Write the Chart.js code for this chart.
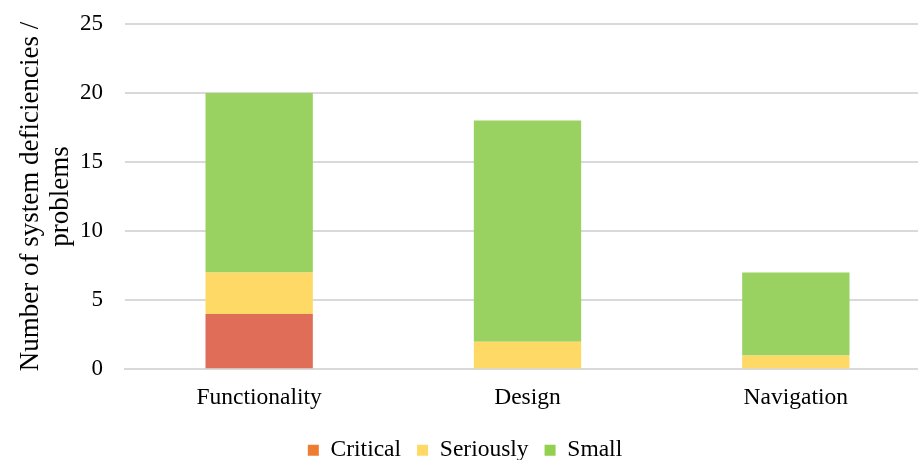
<!DOCTYPE html>
<html>
<head>
<meta charset="utf-8">
<script src="https://cdn.jsdelivr.net/npm/chart.js@4.4.1/dist/chart.umd.min.js"></script>
<style>
  html, body { margin: 0; padding: 0; background: #fff; }
  #wrap { width: 918px; height: 460px; overflow: hidden; }
  /* canvas is a bit bigger than the window; top tick label sits at the edge like the original */
  #chart { display: block; margin-top: -12px; }
</style>
</head>
<body>
<div id="wrap"><canvas id="chart" width="930" height="484"></canvas></div>
<script>
const categories = ["Functionality", "Design", "Navigation"];
const critical = [4, 0, 0];
const seriously = [3, 2, 1];
const small = [13, 16, 6];
const yTicks = [0, 5, 10, 15, 20, 25];

const serif = "'Liberation Serif', 'Times New Roman', serif";
const legendColors = ["#ED7D31", "#FFD966", "#92D050"];

new Chart(document.getElementById("chart").getContext("2d"), {
  type: "bar",
  data: {
    labels: categories,
    datasets: [
      { label: "Critical", data: critical, backgroundColor: "#E06D58" },
      { label: "Seriously", data: seriously, backgroundColor: "#FED966" },
      { label: "Small", data: small, backgroundColor: "#9AD262" }
    ]
  },
  options: {
    responsive: false,
    animation: false,
    layout: { padding: 0 },
    datasets: { bar: { barPercentage: 0.4, categoryPercentage: 1.0 } },
    plugins: {
      tooltip: { enabled: false },
      legend: {
        position: "bottom",
        // empty title only used as a spacer above the items
        title: { display: true, text: "", font: { size: 5, lineHeight: 1 }, padding: 0 },
        labels: {
          color: "#000",
          font: { family: serif, size: 23.5 },
          boxWidth: 11,
          boxHeight: 11,
          padding: 16,
          generateLabels(chart) {
            return chart.data.datasets.map((ds, i) => ({
              text: ds.label,
              fillStyle: legendColors[i],
              strokeStyle: legendColors[i],
              lineWidth: 0,
              datasetIndex: i,
              fontColor: "#000"
            }));
          }
        }
      }
    },
    scales: {
      x: {
        stacked: true,
        grid: { display: false },
        border: { color: "#d9d9d9", width: 2 },
        ticks: { color: "#000", font: { family: serif, size: 23.5 }, padding: 6 }
      },
      y: {
        stacked: true,
        min: 0,
        max: 25,
        afterBuildTicks(axis) { axis.ticks = yTicks.map(v => ({ value: v })); },
        afterFit(axis) { axis.width = 125; },
        grid: { color: "#d9d9d9", lineWidth: 2, drawTicks: false },
        border: { display: false },
        ticks: { color: "#000", font: { family: serif, size: 23 }, padding: 22 },
        title: {
          display: true,
          text: ["Number of system deficiencies /", "problems"],
          color: "#000",
          font: { family: serif, size: 27, lineHeight: 1.12 },
          padding: { top: 16, bottom: 0 }
        }
      }
    }
  }
});
</script>
</body>
</html>
